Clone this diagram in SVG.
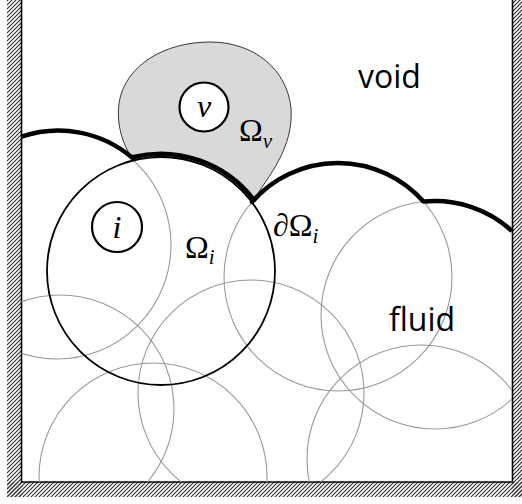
<svg xmlns="http://www.w3.org/2000/svg" width="522" height="504" viewBox="0 0 522 504">
<style>
.p{fill:none;stroke:#999;stroke-width:1.1}
.m{font-family:"Liberation Serif","DejaVu Serif",serif;font-size:32px;fill:#000}
.it{font-style:italic}
.sub{font-size:21px;font-style:italic}
.word{font-family:"Open Sans","Noto Sans","Liberation Sans",sans-serif;font-size:32px;fill:#000}
.lab{fill:#fff;stroke:#000;stroke-width:2.2}
</style>
<defs>
<pattern id="hatch" patternUnits="userSpaceOnUse" width="4" height="4">
<path d="M-1,1 L1,-1 M0,4 L4,0 M3,5 L5,3" stroke="#333" stroke-width="1.2"/>
</pattern>
<clipPath id="box"><rect x="21.5" y="0" width="490.5" height="482"/></clipPath>
</defs>
<rect width="522" height="504" fill="#fff"/>
<g id="wall">
<rect x="7" y="0" width="14.5" height="497" fill="url(#hatch)"/>
<rect x="7" y="482" width="515" height="15" fill="url(#hatch)"/>
<rect x="512" y="0" width="10" height="497" fill="url(#hatch)"/>
<path d="M21.5,0 V482 H512.5 V0" fill="none" stroke="#000" stroke-width="1.6"/>
</g>
<g id="particles" clip-path="url(#box)">
<circle class="p" cx="57" cy="245" r="114"/>
<circle class="p" cx="338" cy="277" r="114"/>
<circle class="p" cx="435" cy="315" r="114"/>
<circle class="p" cx="60" cy="409" r="114"/>
<circle class="p" cx="153" cy="477" r="114"/>
<circle class="p" cx="251" cy="393" r="113"/>
<circle class="p" cx="421" cy="459" r="114"/>
</g>
<g id="void-region">
<path d="M133,160 C123,145 116,125 119,103 C125,65 165,42 210,42 C255,42 287,70 291,108 C294,148 268,177 252,202 A114 114 0 0 0 133,160 Z" fill="#d9d9d9" stroke="#222" stroke-width="0.9"/>
</g>
<g id="particle-i">
<circle cx="161" cy="271" r="114" fill="none" stroke="#000" stroke-width="1.8"/>
</g>
<g id="interface">
<path d="M21.5,136.7 A114 114 0 0 1 132.6,158 L132.3,157.2 A117.5 117.5 0 0 1 254,200 L252,202 A114 114 0 0 1 423.5,201.6 A114 114 0 0 1 512,231" fill="none" stroke="#000" stroke-width="4.5" stroke-linejoin="round"/>
</g>
<g id="node-v">
<circle class="lab" cx="204" cy="107" r="24.5"/>
<text class="m it" x="204" y="117" text-anchor="middle">v</text>
</g>
<g id="node-i">
<circle class="lab" cx="117" cy="227" r="25"/>
<text class="m it" x="117" y="238" text-anchor="middle">i</text>
</g>
<g id="labels">
<text class="m" x="239" y="141">Ω<tspan class="sub" dy="7">v</tspan></text>
<text class="m" x="185" y="258">Ω<tspan class="sub" dy="6">i</tspan></text>
<text class="m" x="273" y="236"><tspan class="it">∂</tspan>Ω<tspan class="sub" dy="7">i</tspan></text>
<text class="word" x="358" y="88">void</text>
<text class="word" x="389" y="331">fluid</text>
</g>
</svg>
